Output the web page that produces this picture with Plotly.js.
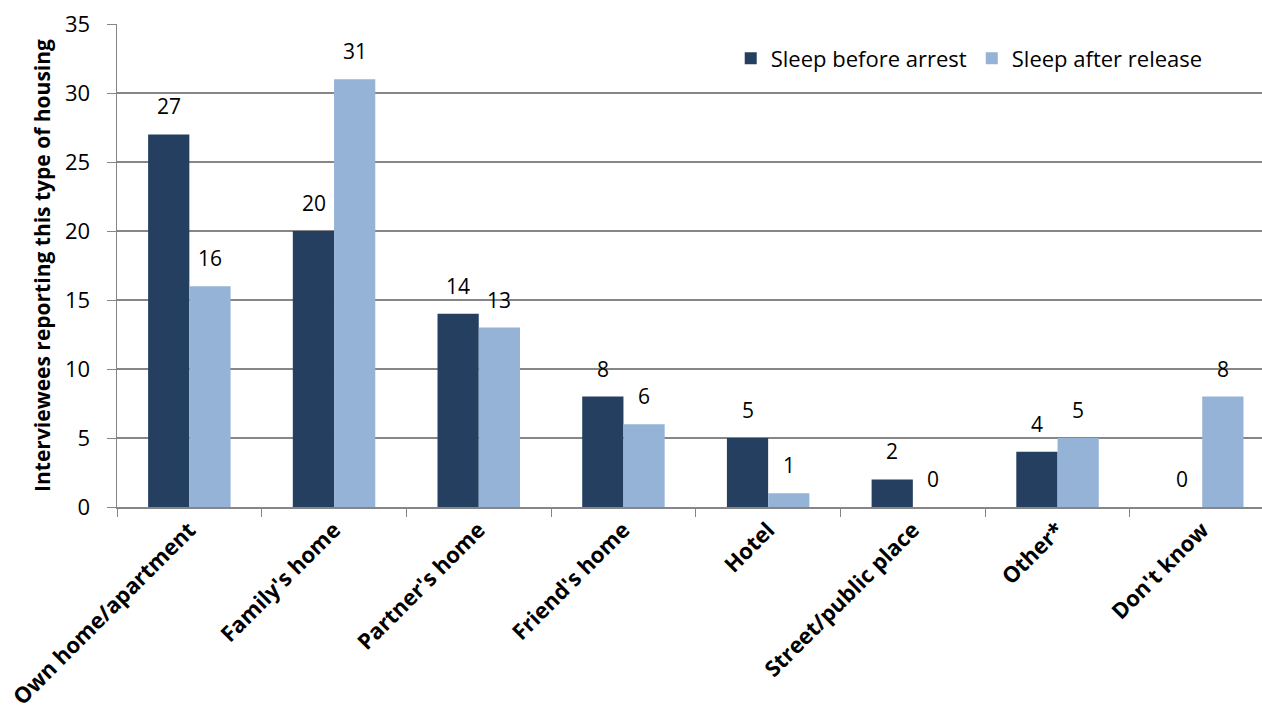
<!DOCTYPE html>
<html>
<head>
<meta charset="utf-8">
<script src="https://cdn.plot.ly/plotly-3.0.1.min.js"></script>
<style>html,body{margin:0;padding:0;background:#fff;}#chart{width:1262px;height:715px;}</style>
</head>
<body>
<div id="chart"></div>
<script>
var categories = ["Own home/apartment", "Family's home", "Partner's home", "Friend's home", "Hotel", "Street/public place", "Other*", "Don't know"];
var seriesNames = ["Sleep before arrest", "Sleep after release"];
var beforeArrest = [27, 20, 14, 8, 5, 2, 4, 0];
var afterRelease = [16, 31, 13, 6, 1, 0, 5, 8];
var yTicks = [0, 5, 10, 15, 20, 25, 30, 35];

var FONT = "Open Sans, Liberation Sans, sans-serif";
var colors = ["#243F60", "#95B3D7"];

var traces = [
  {type: "bar", name: seriesNames[0], x: categories, y: beforeArrest, marker: {color: colors[0]}, hoverinfo: "none"},
  {type: "bar", name: seriesNames[1], x: categories, y: afterRelease, marker: {color: colors[1]}, hoverinfo: "none"}
];

var annotations = [];
[beforeArrest, afterRelease].forEach(function (arr, s) {
  arr.forEach(function (v, i) {
    annotations.push({
      x: categories[i], y: v, xref: "x", yref: "y",
      text: String(v), showarrow: false,
      xshift: s === 0 ? -20.5 : 20.5, yshift: 28,
      yanchor: "middle",
      font: {family: FONT, size: 21, color: "#000"}
    });
  });
});

var layout = {
  width: 1262, height: 715,
  margin: {l: 117, r: 0, t: 24, b: 208},
  paper_bgcolor: "#fff", plot_bgcolor: "#fff",
  barmode: "group", bargap: 0.43, bargroupgap: 0,
  showlegend: true,
  legend: {orientation: "h", x: 0.536, y: 0.972, xanchor: "left", yanchor: "top",
           font: {family: FONT, size: 22, color: "#000"}, itemwidth: 30, traceorder: "normal"},
  xaxis: {
    type: "category", range: [-0.5, 7.413], tickangle: -45,
    ticks: "outside", tickson: "boundaries", ticklen: 8, tickcolor: "#868686",
    showline: true, linecolor: "#868686", linewidth: 1.5,
    showgrid: false, zeroline: false,
    tickfont: {family: FONT, size: 22, color: "#000", weight: "bold"}
  },
  yaxis: {
    range: [0, 35], tickvals: yTicks, ticktext: yTicks.map(String),
    ticks: "outside", ticklen: 9, tickcolor: "#868686", ticklabelstandoff: 12,
    showline: true, linecolor: "#868686", linewidth: 1.5,
    showgrid: true, gridcolor: "#868686", gridwidth: 1.5, zeroline: false,
    tickfont: {family: FONT, size: 22, color: "#000"},
    title: {text: "Interviewees reporting this type of housing", standoff: 8,
            font: {family: FONT, size: 21, color: "#000", weight: "bold"}}
  },
  annotations: annotations
};

Plotly.newPlot("chart", traces, layout, {displayModeBar: false, staticPlot: true});
</script>
</body>
</html>
